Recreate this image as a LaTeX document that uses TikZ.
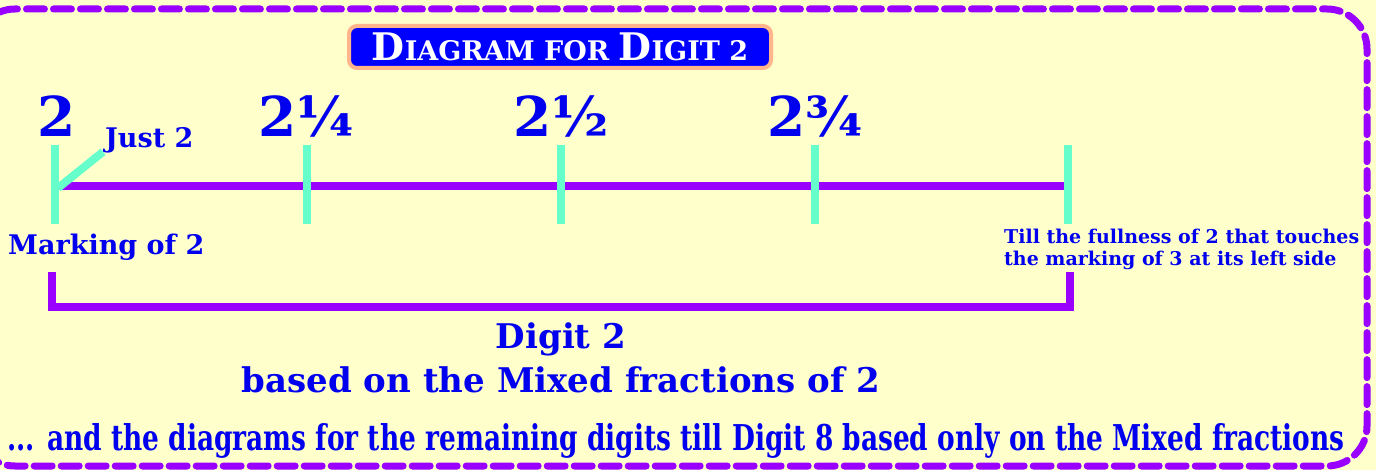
\documentclass[tikz,border=0pt]{standalone}
\usepackage{fontspec}
\usepackage{graphicx}
\setmainfont{DejaVu Serif}
\usetikzlibrary{positioning}
\definecolor{paper}{HTML}{FFFFCC}
\definecolor{ink}{HTML}{0000EE}
\definecolor{violet}{HTML}{9900FF}
\definecolor{mint}{HTML}{66FFCC}
\definecolor{glow}{HTML}{FFB48C}
\definecolor{titleblue}{HTML}{0000FF}

\begin{document}
\begin{tikzpicture}[
  x=1pt, y=-1pt,
  lbl/.style={text=ink, inner sep=0pt},
  bignum/.style={lbl, font=\fontsize{55}{55}\selectfont\bfseries},
  mid/.style={lbl, font=\fontsize{34}{44}\selectfont\bfseries, align=center},
  small/.style={lbl, font=\fontsize{27}{27}\selectfont\bfseries},
  tiny/.style={lbl, font=\fontsize{19}{22}\selectfont\bfseries, align=left},
  tickline/.style={draw=mint, line width=8pt},
  barline/.style={draw=violet, line width=8pt},
  frame/.style={draw=violet, line width=7pt, line cap=round,
    dash pattern=on 18pt off 9pt, rounded corners=40pt}
]
\useasboundingbox (0,0) rectangle (1376,470);
\fill[paper] (0,0) rectangle (1376,470);
\draw[frame] (-25,9) rectangle (1367,466);

% title
\node[fill=titleblue, draw=glow, line width=4pt, rounded corners=8pt,
  minimum width=422pt, minimum height=42pt, text=white,
  font=\bfseries] (title) at (560,47)
  {{\fontsize{38}{38}\selectfont D}{\fontsize{27}{27}\selectfont IAGRAM FOR }{\fontsize{38}{38}\selectfont D}{\fontsize{27}{27}\selectfont IGIT 2}};

% number line
\coordinate (t0) at (55,186);
\coordinate (t1) at (307,186);
\coordinate (t2) at (561,186);
\coordinate (t3) at (815,186);
\coordinate (t4) at (1068,186);
\draw[barline] (t0) -- (t4);
\foreach \t in {t0,t1,t2,t3,t4}
  \draw[tickline] ([yshift=-38pt]\t) -- ([yshift=41pt]\t);

\node[bignum, anchor=base] (n0) at (57,137) {2};
\node[bignum, anchor=base] (n1) at (306,137) {2¼};
\node[bignum, anchor=base] (n2) at (561,137) {2½};
\node[bignum, anchor=base] (n3) at (815,137) {2¾};

\node[lbl, font=\fontsize{27}{27}\selectfont\bfseries, anchor=base west] (just) at (105,148) {Just 2};
\draw[tickline] ([xshift=3pt,yshift=-2pt]t0) -- ([xshift=-2pt,yshift=2pt]just.south west);

\node[small, anchor=west] (mark) at (8,247) {Marking of 2};
\node[tiny, anchor=north west] (till) at (1004,229)
  {Till the fullness of 2 that touches\\the marking of 3 at its left side};

% bracket
\coordinate (b0) at (52,272);
\coordinate (b1) at (1070,272);
\draw[barline] (b0) -- (b0 |- 0,307) -- (b1 |- 0,307) -- (b1);

\node[mid] (digit) at (561,358) {Digit 2\\based on the Mixed fractions of 2};

\node[lbl, font=\bfseries, anchor=base] (rest) at (676,450)
  {\resizebox{1337pt}{27pt}{... and the diagrams for the remaining digits till Digit 8 based only on the Mixed fractions}};

\end{tikzpicture}
\end{document}
